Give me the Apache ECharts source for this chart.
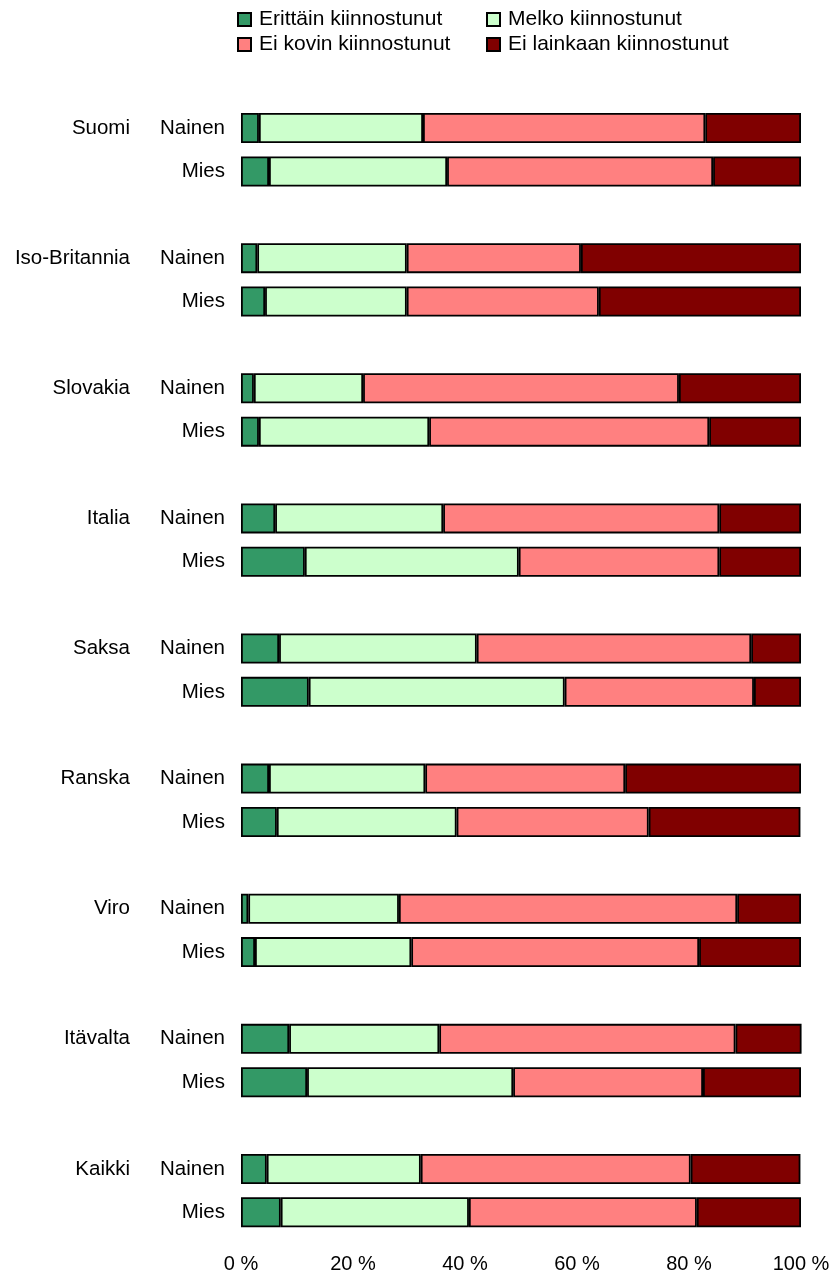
<!DOCTYPE html>
<html>
<head>
<meta charset="utf-8">
<script src="https://cdn.jsdelivr.net/npm/echarts@6/dist/echarts.min.js"></script>
<style>html,body{margin:0;padding:0;background:#fff}#c{width:838px;height:1278px}</style>
</head>
<body>
<div id="c"></div>
<script>
const countries = ['Suomi','Iso-Britannia','Slovakia','Italia','Saksa','Ranska','Viro','Itävalta','Kaikki'];
const genders = ['Nainen','Mies'];
const seriesNames = ['Erittäin kiinnostunut','Melko kiinnostunut','Ei kovin kiinnostunut','Ei lainkaan kiinnostunut'];
const xTicks = [0,20,40,60,80,100];
// values per country: [Nainen, Mies]
const erittain = [[3.2,5.0],[2.9,4.3],[2.3,3.2],[6.1,11.4],[6.8,12.1],[5.0,6.4],[1.3,2.5],[8.6,11.8],[4.6,7.1]];
const melko    = [[29.3,31.8],[26.7,25.3],[19.5,30.4],[30.0,38.2],[35.3,45.7],[27.9,32.1],[26.9,27.9],[26.8,36.8],[27.5,33.6]];
const eiKovin  = [[50.4,47.5],[31.1,34.3],[56.4,50.0],[49.3,35.8],[49.0,33.8],[35.7,34.3],[60.4,51.4],[52.9,33.9],[48.2,40.7]];
const eiLainkaan=[[17.1,15.7],[39.3,36.1],[21.8,16.4],[14.6,14.6],[8.9,8.4],[31.4,27.1],[11.4,18.2],[11.8,17.5],[19.6,18.6]];
const colors = ['#339966','#CCFFCC','#FF8080','#800000'];

// build slot layout: blank, Nainen, Mies per country
const genderCats = [], countryCats = [];
countries.forEach((c,i)=>{
  genderCats.push(''); countryCats.push('');
  genderCats.push(genders[0]); countryCats.push(c);
  genderCats.push(genders[1]); countryCats.push('');
});
function toSlots(arr){
  const out=[];
  arr.forEach(p=>{out.push(null); out.push(p[0]); out.push(p[1]);});
  return out;
}
const allData=[erittain,melko,eiKovin,eiLainkaan];
const font='Liberation Sans, Arial, sans-serif';

const legendPos=[[237,9],[486,9],[237,34],[486,34]];
const chart=echarts.init(document.getElementById('c'));
chart.setOption({
  animation:false,
  textStyle:{fontFamily:font},
  legend: seriesNames.map((n,i)=>({
    data:[n], left:legendPos[i][0], top:legendPos[i][1], itemWidth:13, itemHeight:13, itemGap:5,
    padding:0, icon:'rect', selectedMode:false,
    textStyle:{fontFamily:font,fontSize:21,color:'#000',padding:[0,0,0,3]}
  })),
  grid:{left:241,right:37,top:63,bottom:44,containLabel:false},
  xAxis:{type:'value',min:0,max:100,interval:20,
    axisLine:{show:false},axisTick:{show:false},splitLine:{show:false},
    axisLabel:{formatter:'{value} %',fontSize:20,color:'#000',margin:20,fontFamily:font}},
  yAxis:[
    {type:'category',data:genderCats,inverse:true,
      axisLine:{show:false},axisTick:{show:false},
      axisLabel:{fontSize:20.5,color:'#000',margin:16,fontFamily:font,interval:0}},
    {type:'category',data:countryCats,inverse:true,position:'left',
      axisLine:{show:false},axisTick:{show:false},
      axisLabel:{fontSize:20.5,color:'#000',margin:111,fontFamily:font,interval:0}}
  ],
  series: seriesNames.map((n,i)=>({
    name:n,type:'bar',stack:'all',yAxisIndex:0,barWidth:30,
    data:toSlots(allData[i]),
    itemStyle:{color:colors[i],borderColor:'#000',borderWidth:1.8}
  }))
});
</script>
</body>
</html>
